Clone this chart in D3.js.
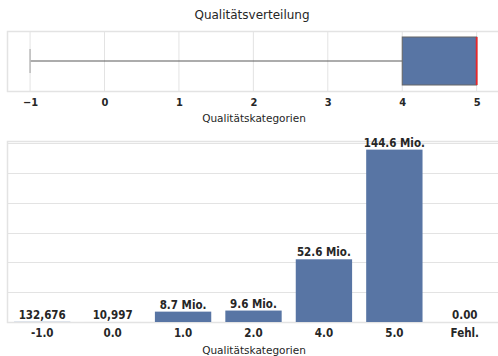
<!DOCTYPE html>
<html>
<head>
<meta charset="utf-8">
<script src="https://cdn.jsdelivr.net/npm/d3@7"></script>
<style>
  html, body { margin: 0; padding: 0; background: #fff; }
  svg { display: block; font-family: "DejaVu Sans", sans-serif; }
  .bold { font-family: "DejaVu Sans Condensed", "DejaVu Sans", sans-serif; font-stretch: condensed; font-weight: bold; }
</style>
</head>
<body>
<svg id="chart" width="498" height="356"></svg>
<script>
// Box plot summary of quality categories
const boxStats = { min: -1, q1: 4, median: 5, q3: 5, max: 5 };
const boxTicks = [-1, 0, 1, 2, 3, 4, 5];

// Counts per quality category
const categories = ["-1.0", "0.0", "1.0", "2.0", "4.0", "5.0", "Fehl."];
const counts = [132676, 10997, 8.7e6, 9.6e6, 52.6e6, 144.6e6, 0];
const countLabels = ["132,676", "10,997", "8.7 Mio.", "9.6 Mio.", "52.6 Mio.", "144.6 Mio.", "0.00"];
const gridValues = [25e6, 50e6, 75e6, 100e6, 125e6, 150e6];

const barColor = "#5875a4";
const gridColor = "#e3e3e3";
const textColor = "#262626";

const svg = d3.select("#chart");

// ---------- Box plot ----------
const boxPanel = { left: 7, right: 499, top: 31, bottom: 91 };
const xBox = d3.scaleLinear().domain([-1.31, 5.3]).range([boxPanel.left, boxPanel.right]);

svg.append("text")
  .attr("x", 252).attr("y", 19)
  .attr("text-anchor", "middle")
  .attr("font-size", 12).attr("fill", textColor)
  .text("Qualitätsverteilung");

const gTop = svg.append("g");
gTop.selectAll("line.grid").data(boxTicks).join("line")
  .attr("class", "grid")
  .attr("x1", d => xBox(d)).attr("x2", d => xBox(d))
  .attr("y1", boxPanel.top).attr("y2", boxPanel.bottom)
  .attr("stroke", gridColor).attr("stroke-width", 1);

gTop.append("rect")
  .attr("x", boxPanel.left + 0.5).attr("y", boxPanel.top + 0.5)
  .attr("width", boxPanel.right - boxPanel.left).attr("height", boxPanel.bottom - boxPanel.top)
  .attr("fill", "none").attr("stroke", gridColor).attr("stroke-width", 1.5);

const cy = (boxPanel.top + boxPanel.bottom) / 2;
// whisker line
gTop.append("line")
  .attr("x1", xBox(boxStats.min)).attr("x2", xBox(boxStats.q1))
  .attr("y1", cy).attr("y2", cy)
  .attr("stroke", "#5a5a5a").attr("stroke-width", 1.2);
// whisker cap
gTop.append("line")
  .attr("x1", xBox(boxStats.min)).attr("x2", xBox(boxStats.min))
  .attr("y1", cy - 12).attr("y2", cy + 12)
  .attr("stroke", "#bbb").attr("stroke-width", 1.5);
// box
gTop.append("rect")
  .attr("x", xBox(boxStats.q1)).attr("y", boxPanel.top + 6)
  .attr("width", xBox(boxStats.q3) - xBox(boxStats.q1))
  .attr("height", boxPanel.bottom - boxPanel.top - 12)
  .attr("fill", barColor).attr("stroke", "#666").attr("stroke-width", 1);
// median
gTop.append("line")
  .attr("x1", xBox(boxStats.median)).attr("x2", xBox(boxStats.median))
  .attr("y1", boxPanel.top + 6).attr("y2", boxPanel.bottom - 6)
  .attr("stroke", "#e8262a").attr("stroke-width", 1.8);

const axTop = gTop.append("g")
  .attr("transform", `translate(0,${boxPanel.bottom})`)
  .call(d3.axisBottom(xBox).tickValues(boxTicks).tickSize(0).tickPadding(7)
    .tickFormat(d => d < 0 ? "\u2212" + Math.abs(d) : d));
axTop.select(".domain").remove();
axTop.selectAll("text")
  .attr("class", "bold").attr("font-family", null)
  .attr("font-size", 11).attr("fill", textColor);

svg.append("text")
  .attr("x", 254).attr("y", 122)
  .attr("text-anchor", "middle")
  .attr("font-size", 10.5).attr("fill", textColor)
  .text("Qualitätskategorien");

// ---------- Bar chart ----------
const barPanel = { left: 7, right: 500, top: 141, bottom: 322 };
const xBar = d3.scaleBand().domain(categories).range([barPanel.left, barPanel.right])
  .paddingInner(0.2).paddingOuter(0.1);
const yBar = d3.scaleLinear().domain([0, d3.max(counts) * 1.05]).range([barPanel.bottom, barPanel.top]);

const gBot = svg.append("g");
gBot.selectAll("line.grid").data(gridValues).join("line")
  .attr("class", "grid")
  .attr("x1", barPanel.left).attr("x2", barPanel.right)
  .attr("y1", d => Math.round(yBar(d)) + 0.5).attr("y2", d => Math.round(yBar(d)) + 0.5)
  .attr("stroke", gridColor).attr("stroke-width", 1.2);

gBot.append("rect")
  .attr("x", barPanel.left + 0.5).attr("y", barPanel.top + 0.5)
  .attr("width", barPanel.right - barPanel.left).attr("height", barPanel.bottom - barPanel.top)
  .attr("fill", "none").attr("stroke", gridColor).attr("stroke-width", 1.5);

const data = categories.map((c, i) => ({ c, v: counts[i], label: countLabels[i] }));

gBot.selectAll("rect.bar").data(data).join("rect")
  .attr("class", "bar")
  .attr("x", d => xBar(d.c)).attr("width", xBar.bandwidth())
  .attr("y", d => yBar(d.v)).attr("height", d => yBar(0) - yBar(d.v))
  .attr("fill", barColor);

gBot.selectAll("text.val").data(data).join("text")
  .attr("class", "val bold")
  .attr("x", d => xBar(d.c) + xBar.bandwidth() / 2)
  .attr("y", d => yBar(d.v) - 3)
  .attr("text-anchor", "middle")
  .attr("font-size", 11.5).attr("fill", textColor)
  .text(d => d.label);

const axBot = gBot.append("g")
  .attr("transform", `translate(0,${barPanel.bottom})`)
  .call(d3.axisBottom(xBar).tickSize(0).tickPadding(7));
axBot.select(".domain").remove();
axBot.selectAll("text")
  .attr("class", "bold").attr("font-family", null)
  .attr("font-size", 11.5).attr("fill", textColor);

svg.append("text")
  .attr("x", 254).attr("y", 354)
  .attr("text-anchor", "middle")
  .attr("font-size", 10.5).attr("fill", textColor)
  .text("Qualitätskategorien");
</script>
</body>
</html>
